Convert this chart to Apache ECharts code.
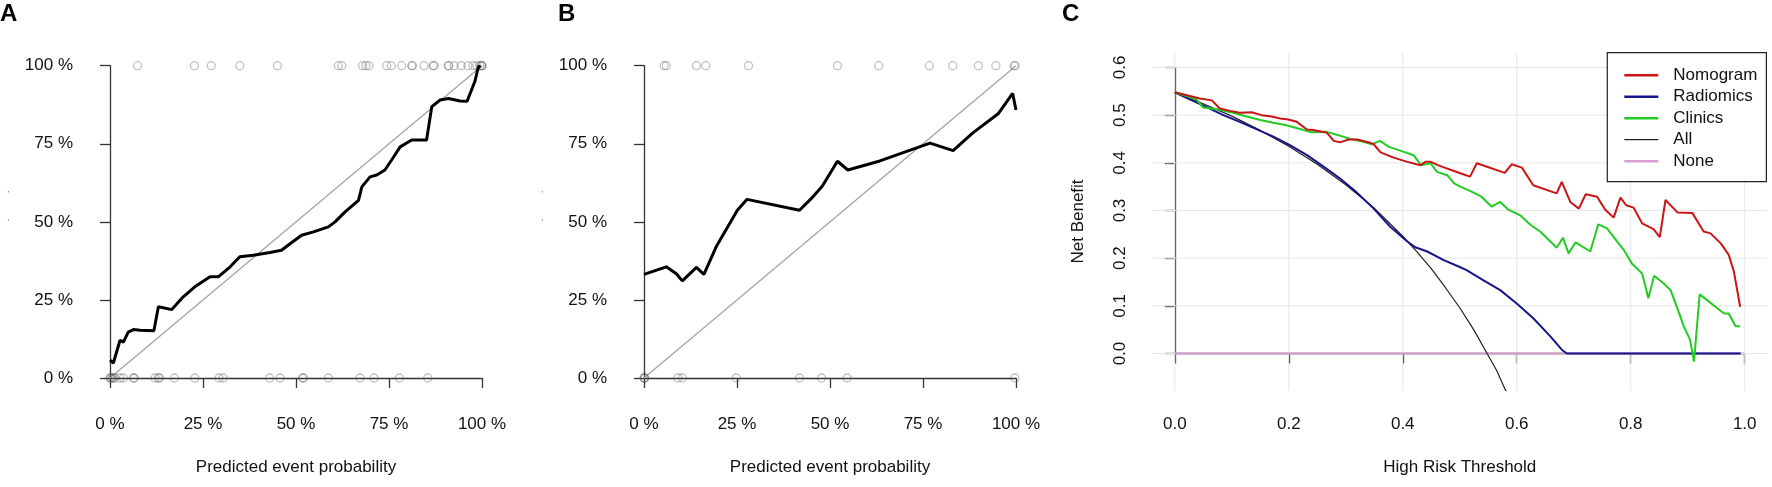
<!DOCTYPE html>
<html>
<head>
<meta charset="utf-8">
<script src="https://cdn.jsdelivr.net/npm/echarts@6/dist/echarts.min.js"></script>
<style>html,body{margin:0;padding:0;background:#fff;}#chart{width:1772px;height:487px;}</style>
</head>
<body>
<div id="chart"></div>
<script>
// ---------- Panel A (calibration, training) ----------
const calA_pred = [0, 0.9, 2.7, 3.6, 4.9, 6.3, 8.1, 11.8, 13.0, 14.3, 16.6, 19.7, 22.8, 26.9, 29.1, 32.3, 34.9, 38.5, 43.0, 46.1, 48.4, 51.5, 54.7, 58.7, 60.5, 63.2, 66.8, 67.7, 69.9, 71.7, 73.9, 75.7, 78.0, 81.1, 85.1, 86.5, 88.7, 91.0, 94.1, 96.0, 98.1, 99.0, 99.6];
const calA_obs  = [5.7, 4.8, 12.1, 11.5, 14.7, 15.5, 15.3, 15.1, 22.8, 22.5, 21.9, 26.0, 29.2, 32.4, 32.4, 35.6, 38.8, 39.3, 40.2, 40.9, 43.0, 45.7, 46.8, 48.4, 50.0, 53.2, 56.9, 61.2, 64.4, 65.0, 66.6, 69.8, 74.0, 76.2, 76.2, 86.9, 89.0, 89.5, 88.7, 88.6, 95.0, 99.5, 100];
const eventsA   = [7.4, 22.7, 27.2, 34.9, 45.0, 61.4, 62.3, 67.9, 68.8, 69.6, 74.4, 75.6, 78.4, 81.1, 81.3, 84.4, 86.9, 87.1, 90.9, 91.1, 92.5, 94.4, 96.2, 97.6, 98.6, 99.4, 99.8, 100, 100];
const nonEventsA = [0, 0.2, 0.5, 0.9, 1.3, 2.7, 3.6, 6.3, 6.5, 12.1, 13.0, 13.3, 17.3, 22.8, 29.3, 30.4, 42.9, 45.7, 51.8, 52.0, 58.7, 67.2, 71.0, 77.8, 85.4];

// ---------- Panel B (calibration, validation) ----------
const calB_pred = [0, 6.0, 8.7, 10.3, 14.1, 16.1, 19.4, 25.1, 27.7, 41.8, 45.0, 47.9, 52.0, 54.8, 63.4, 76.9, 83.1, 88.4, 95.2, 99.1, 100];
const calB_obs  = [33.2, 35.6, 33.4, 31.1, 35.4, 33.2, 42.0, 53.7, 57.2, 53.7, 57.5, 61.4, 69.4, 66.6, 69.5, 75.2, 72.8, 78.5, 84.6, 91.1, 85.8];
const eventsB    = [5.4, 6.0, 14.1, 16.6, 28.1, 52.0, 63.1, 76.7, 83.0, 89.9, 94.6, 99.5, 99.8];
const nonEventsB = [0, 0.1, 0.2, 9.1, 10.3, 24.8, 41.8, 47.7, 54.6, 99.7];

const idealLine = [[0, 0], [1, 1]];
const pctTicks = [0, 0.25, 0.5, 0.75, 1];
const pctTickLabels = ['0 %', '25 %', '50 %', '75 %', '100 %'];

// ---------- Panel C (decision curve) ----------
const nomogramThr = [0, 0.044, 0.065, 0.079, 0.097, 0.114, 0.135, 0.152, 0.170, 0.185, 0.199, 0.214, 0.232, 0.243, 0.267, 0.279, 0.290, 0.305, 0.320, 0.343, 0.349, 0.361, 0.384, 0.408, 0.431, 0.440, 0.449, 0.466, 0.501, 0.518, 0.530, 0.579, 0.591, 0.609, 0.629, 0.670, 0.679, 0.694, 0.709, 0.721, 0.741, 0.755, 0.770, 0.782, 0.792, 0.805, 0.820, 0.840, 0.851, 0.861, 0.882, 0.908, 0.928, 0.940, 0.958, 0.972, 0.981, 0.992];
const nomogramNB  = [0.548, 0.535, 0.531, 0.514, 0.509, 0.505, 0.506, 0.500, 0.497, 0.493, 0.491, 0.486, 0.470, 0.469, 0.463, 0.446, 0.443, 0.449, 0.449, 0.442, 0.439, 0.422, 0.411, 0.402, 0.395, 0.402, 0.402, 0.393, 0.378, 0.371, 0.399, 0.379, 0.397, 0.390, 0.353, 0.336, 0.360, 0.318, 0.304, 0.334, 0.329, 0.302, 0.285, 0.327, 0.311, 0.306, 0.273, 0.261, 0.244, 0.322, 0.296, 0.295, 0.256, 0.252, 0.231, 0.207, 0.172, 0.098];
const radiomicsThr = [0, 0.026, 0.056, 0.085, 0.114, 0.144, 0.173, 0.202, 0.232, 0.261, 0.290, 0.320, 0.349, 0.378, 0.408, 0.422, 0.443, 0.472, 0.501, 0.512, 0.541, 0.571, 0.600, 0.629, 0.659, 0.679, 0.688, 0.993];
const radiomicsNB  = [0.548, 0.533, 0.517, 0.500, 0.486, 0.470, 0.455, 0.437, 0.416, 0.392, 0.367, 0.337, 0.304, 0.266, 0.235, 0.223, 0.214, 0.196, 0.181, 0.175, 0.154, 0.133, 0.105, 0.074, 0.036, 0.008, 0, 0];
const clinicsThr = [0, 0.038, 0.050, 0.076, 0.103, 0.126, 0.150, 0.173, 0.196, 0.220, 0.240, 0.267, 0.287, 0.305, 0.331, 0.346, 0.360, 0.375, 0.402, 0.419, 0.432, 0.449, 0.460, 0.478, 0.490, 0.501, 0.518, 0.538, 0.556, 0.571, 0.585, 0.606, 0.624, 0.641, 0.659, 0.670, 0.681, 0.691, 0.703, 0.729, 0.743, 0.758, 0.776, 0.788, 0.802, 0.820, 0.831, 0.841, 0.858, 0.870, 0.887, 0.893, 0.904, 0.911, 0.921, 0.934, 0.952, 0.964, 0.972, 0.984, 0.992];
const clinicsNB  = [0.548, 0.533, 0.516, 0.512, 0.505, 0.497, 0.490, 0.484, 0.479, 0.471, 0.464, 0.465, 0.458, 0.451, 0.444, 0.439, 0.446, 0.434, 0.423, 0.416, 0.395, 0.399, 0.381, 0.374, 0.357, 0.350, 0.341, 0.329, 0.308, 0.318, 0.302, 0.290, 0.270, 0.256, 0.235, 0.222, 0.243, 0.210, 0.233, 0.214, 0.271, 0.263, 0.235, 0.217, 0.189, 0.168, 0.116, 0.163, 0.147, 0.133, 0.078, 0.057, 0.029, -0.017, 0.124, 0.112, 0.095, 0.084, 0.084, 0.057, 0.057];
const allThr = [0, 0.05, 0.1, 0.15, 0.2, 0.25, 0.3, 0.35, 0.4, 0.425, 0.45, 0.475, 0.5, 0.525, 0.55, 0.565, 0.6];
const allNB  = [0.548, 0.524, 0.498, 0.468, 0.435, 0.397, 0.354, 0.305, 0.246, 0.213, 0.178, 0.138, 0.096, 0.049, -0.004, -0.036, -0.130];
const noneThr = [0, 0.99];
const noneNB  = [0, 0];
const cXTicks = [0, 0.2, 0.4, 0.6, 0.8, 1.0];
const cYTicks = [0, 0.1, 0.2, 0.3, 0.4, 0.5, 0.6];
const legendNames = ['Nomogram', 'Radiomics', 'Clinics', 'All', 'None'];

// ---------- layout ----------
const FONT = 'Liberation Sans, Arial, sans-serif';
const TXT = '#111';
const AX = '#333';
const zip = (a, b) => a.map((v, i) => [v, b[i]]);
const pct = v => v / 100;

const calGridA = {left: 110, top: 65.7, width: 372, height: 312.3};
const calGridB = {left: 644, top: 65.7, width: 372, height: 312.3};
const cPlot = {left: 1152, top: 52.7, right: 1767.5, bottom: 390.7};
const cXR = [-0.04, 1.04];
const cYR = [-0.078, 0.631];
const cPxX = (cPlot.right - cPlot.left) / (cXR[1] - cXR[0]);
const cPxY = (cPlot.bottom - cPlot.top) / (cYR[1] - cYR[0]);
const cAxesGrid = {
  left: cPlot.left + (0 - cXR[0]) * cPxX,
  width: 1 * cPxX,
  top: cPlot.top + (cYR[1] - 0.6) * cPxY,
  height: 0.6 * cPxY
};
const cAxisYOffset = cAxesGrid.left - cPlot.left;
const cAxisXOffset = cPlot.bottom - (cAxesGrid.top + cAxesGrid.height);

const axLine = {show: true, lineStyle: {color: AX, width: 1.3}};
const axTick = {show: true, length: 10, inside: false, lineStyle: {color: AX, width: 1.3}};
const lbl = {fontSize: 17, fontFamily: FONT, color: TXT};

function calX(gi) {
  return {
    type: 'value', gridIndex: gi, min: 0, max: 1, interval: 0.25, offset: 14.5,
    axisLine: axLine, axisTick: axTick, splitLine: {show: false},
    axisLabel: Object.assign({margin: 23, showMinLabel: true, showMaxLabel: true,
      formatter: v => pctTickLabels[pctTicks.indexOf(v)]}, lbl),
    name: 'Predicted event probability', nameLocation: 'middle', nameGap: 66,
    nameTextStyle: lbl
  };
}
function calY(gi) {
  return {
    type: 'value', gridIndex: gi, min: 0, max: 1, interval: 0.25, offset: 15,
    axisLine: axLine, axisTick: axTick, splitLine: {show: false},
    axisLabel: Object.assign({margin: 22, showMinLabel: true, showMaxLabel: true,
      formatter: v => pctTickLabels[pctTicks.indexOf(v)]}, lbl),
    name: '.         .', nameLocation: 'middle', nameGap: 84, nameRotate: 90,
    nameTextStyle: {fontSize: 10, fontFamily: FONT, color: '#333', padding: [0, 0, 0, 32]}
  };
}
const ringStyle = {color: 'rgba(0,0,0,0)', borderColor: 'rgba(80,80,80,0.45)', borderWidth: 1.3};
function calSeries(gi, pred, obs, ev, nonEv) {
  return [
    {type: 'line', xAxisIndex: gi, yAxisIndex: gi, data: idealLine, symbol: 'none',
     lineStyle: {color: '#a8a8a8', width: 1.5}, z: 2, silent: true},
    {type: 'scatter', xAxisIndex: gi, yAxisIndex: gi, data: ev.map(v => [pct(v), 1]),
     symbol: 'circle', symbolSize: 8, itemStyle: ringStyle, clip: false, z: 3, silent: true},
    {type: 'scatter', xAxisIndex: gi, yAxisIndex: gi, data: nonEv.map(v => [pct(v), 0]),
     symbol: 'circle', symbolSize: 8, itemStyle: ringStyle, clip: false, z: 3, silent: true},
    {type: 'line', xAxisIndex: gi, yAxisIndex: gi, data: zip(pred.map(pct), obs.map(pct)),
     symbol: 'none', lineStyle: {color: '#000', width: 3}, z: 4, silent: true}
  ];
}

// gridlines for panel C (built from tick arrays, across the full plot region)
const gridSeries = [];
cXTicks.forEach(t => gridSeries.push({type: 'line', xAxisIndex: 2, yAxisIndex: 2, symbol: 'none', silent: true, z: 1,
  data: [[t, cYR[0]], [t, cYR[1]]], lineStyle: {color: '#e6e6e6', width: 1}}));
cYTicks.forEach(t => gridSeries.push({type: 'line', xAxisIndex: 2, yAxisIndex: 2, symbol: 'none', silent: true, z: 1,
  data: [[cXR[0], t], [cXR[1], t]], lineStyle: {color: '#e6e6e6', width: 1}}));

function dcaLine(name, thr, nb, color, width, z) {
  return {type: 'line', name: name, xAxisIndex: 2, yAxisIndex: 2, data: zip(thr, nb), symbol: 'none',
    lineStyle: {color: color, width: width}, itemStyle: {color: color}, z: z, silent: true};
}
const thickIcon = 'path://M0,0 L34,0 L34,2.6 L0,2.6 Z';
const thinIcon = 'path://M0,0 L34,0 L34,1.3 L0,1.3 Z';

const option = {
  animation: false,
  backgroundColor: '#fff',
  title: [
    {text: 'A', left: 0, top: 2, padding: 0, textStyle: {fontSize: 24, fontWeight: 'bold', fontFamily: FONT, color: '#000'}},
    {text: 'B', left: 558, top: 2, padding: 0, textStyle: {fontSize: 24, fontWeight: 'bold', fontFamily: FONT, color: '#000'}},
    {text: 'C', left: 1062, top: 2, padding: 0, textStyle: {fontSize: 24, fontWeight: 'bold', fontFamily: FONT, color: '#000'}}
  ],
  grid: [
    Object.assign({containLabel: false, outerBoundsMode: 'none'}, calGridA),
    Object.assign({containLabel: false, outerBoundsMode: 'none'}, calGridB),
    {left: cPlot.left, top: cPlot.top, width: cPlot.right - cPlot.left, height: cPlot.bottom - cPlot.top, containLabel: false, outerBoundsMode: 'none'},
    Object.assign({containLabel: false, outerBoundsMode: 'none'}, cAxesGrid)
  ],
  xAxis: [
    calX(0), calX(1),
    {type: 'value', gridIndex: 2, min: cXR[0], max: cXR[1], show: false},
    {type: 'value', gridIndex: 3, min: 0, max: 1, interval: 0.2, offset: cAxisXOffset,
     axisLine: axLine, axisTick: axTick, splitLine: {show: false},
     axisLabel: Object.assign({margin: 25, showMinLabel: true, showMaxLabel: true, formatter: v => v.toFixed(1)}, lbl),
     name: 'High Risk Threshold', nameLocation: 'middle', nameGap: 68, nameTextStyle: lbl}
  ],
  yAxis: [
    calY(0), calY(1),
    {type: 'value', gridIndex: 2, min: cYR[0], max: cYR[1], show: false},
    {type: 'value', gridIndex: 3, min: 0, max: 0.6, interval: 0.1, offset: cAxisYOffset,
     axisLine: axLine, axisTick: axTick, splitLine: {show: false},
     axisLabel: Object.assign({margin: 23, rotate: 90, showMinLabel: true, showMaxLabel: true, formatter: v => v.toFixed(1)}, lbl),
     name: 'Net Benefit', nameLocation: 'middle', nameGap: 65, nameRotate: 90,
     nameTextStyle: Object.assign({padding: [0, 22, 0, 0]}, lbl)}
  ],
  legend: {
    data: legendNames.map(n => ({name: n, icon: n === 'All' ? thinIcon : thickIcon})),
    orient: 'vertical', left: 1607.3, top: 52.7,
    padding: [14, 9, 12, 17],
    itemWidth: 34, itemHeight: 14, itemGap: 4.5,
    symbolKeepAspect: true,
    borderColor: '#222', borderWidth: 1.2, borderRadius: 0,
    backgroundColor: '#fff',
    selectedMode: false,
    textStyle: {fontSize: 17, lineHeight: 14, fontFamily: FONT, color: TXT, padding: [0, 0, 0, 10]}
  },
  series: [].concat(
    calSeries(0, calA_pred, calA_obs, eventsA, nonEventsA),
    calSeries(1, calB_pred, calB_obs, eventsB, nonEventsB),
    gridSeries,
    [
      dcaLine('None', noneThr, noneNB, '#d89ed0', 2.2, 2),
      dcaLine('All', allThr, allNB, '#222222', 1.2, 3),
      dcaLine('Radiomics', radiomicsThr, radiomicsNB, '#16168a', 2, 4),
      dcaLine('Clinics', clinicsThr, clinicsNB, '#22cc22', 2, 5),
      dcaLine('Nomogram', nomogramThr, nomogramNB, '#cc1414', 2, 6)
    ]
  )
};

const chart = echarts.init(document.getElementById('chart'), null, {renderer: 'canvas'});
chart.setOption(option);
</script>
</body>
</html>
